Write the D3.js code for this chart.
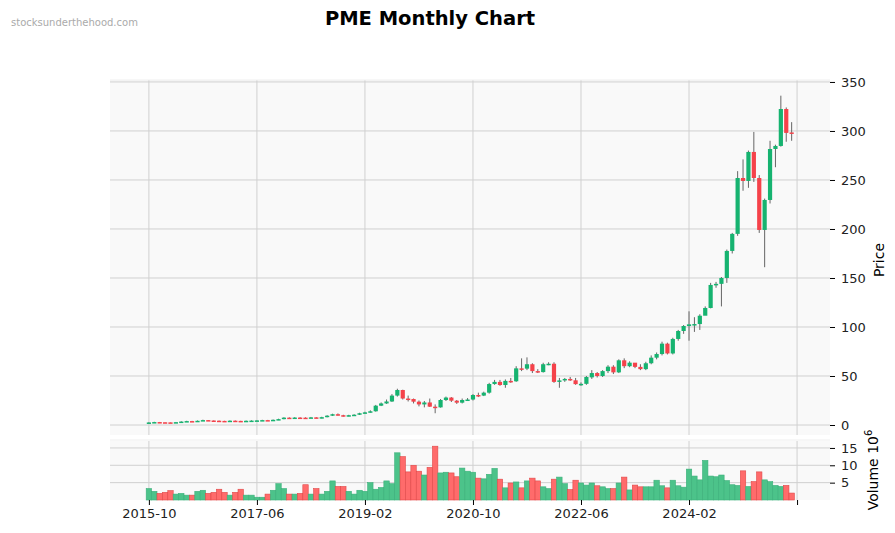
<!DOCTYPE html>
<html><head><meta charset="utf-8">
<script src="https://cdn.jsdelivr.net/npm/d3@7"></script>
<style>body{margin:0;background:#fff;font-family:"DejaVu Sans",sans-serif}</style>
</head><body><svg id="c" width="895" height="533"></svg>
<script>
const startMonth = "2015-10";
const tickIdx = [0,20,40,60,80,100,120];
const tickLabels = ["2015-10","2017-06","2019-02","2020-10","2022-06","2024-02",""];
const closes = [2.6,3.0,2.8,2.7,2.6,2.9,3.5,4.0,3.8,4.3,5.0,4.6,4.4,4.2,4.0,4.4,4.2,4.0,4.3,4.5,
4.7,5.0,4.8,5.3,6.0,7.5,7.2,7.6,7.5,7.3,7.8,7.0,8.0,9.5,11,10.0,9.0,10.0,10.5,12,
12.9,14,19.7,22,24,30,35.7,27,26.5,23.8,21,23,18.7,18,25.5,28,24.8,22.8,25.5,26,
30.6,30,33,41.8,44,40.8,45,44.6,57.8,57.5,62,55,54,62,62.5,44,45.5,47,45.6,41.7,
42,49,53,50,55,59.5,53.7,66,60,63.6,59.3,57,63,68.7,72.4,83,73,87.8,95.9,101,
102.7,103,111.5,119.4,142.9,144,150,177.6,195,252,249,278.6,252,199,229.6,281.6,284.7,322.4,298,297];
const opens = [2.3,2.6,3.0,2.8,2.7,2.6,2.9,3.5,4.0,3.8,4.3,5.0,4.6,4.4,4.2,4.0,4.4,4.2,4.0,4.3,
4.5,4.7,5.0,4.8,5.3,6.0,7.5,7.2,7.6,7.5,7.3,7.8,7.0,8.0,9.5,11,10.0,9.0,10.0,10.5,
12,12.9,14,19.7,22,24,30,35.7,27,26.5,23.8,21,23,18.7,18,25.5,28,24.8,22.8,25.5,
26,30.6,30,33,41.8,44,40.8,45,44.6,57.8,57.5,62,55,54,62,62.5,44,45.5,47,45.6,
41.7,42,48.6,53,50,55,59.5,53.7,66,60,63.6,59.3,57,63,68.7,72.4,83,73,87.8,95.9,
101,102.7,103,111.5,119.4,142.9,144,150,177.6,195,252,249,278.6,252,199,229.6,281.6,284.7,322.4,298.5];
const highs = [2.9,3.3,3.1,2.9,2.8,3.1,3.8,4.3,4.2,4.6,5.4,5.1,4.8,4.5,4.3,4.7,4.6,4.3,4.6,4.8,
5.0,5.3,5.2,5.6,6.4,7.9,7.8,8.0,7.9,7.8,8.2,7.9,8.4,10,11.5,11.8,10.4,10.4,11,12.5,
13.5,15,20.5,23,26,31.5,37,36,30,27,25,24.5,27,21,26.5,29,28.5,25.5,27,27.5,
31.5,33,34,43,46,46,46.5,48,60,68,69,63,57,63.5,64,64,48,48,49,48,
43.5,50,56,54,56,61,61,67,68,65,62.5,62,64.5,71,74,85,84,89,97,102,
116,110,113,121,145,146,151,179,196,259,271,280,299,255,231,290,286,336,324,309];
const lows = [2.2,2.4,2.6,2.5,2.4,2.4,2.7,3.3,3.6,3.6,4.1,4.4,4.2,4.0,3.8,3.9,4.0,3.8,3.8,4.1,
4.3,4.5,4.6,4.6,5.0,5.8,6.8,7.0,7.1,7.0,7.0,6.8,6.8,7.8,9.2,9.6,8.6,8.8,9.7,10.2,
11.7,12.6,13.6,19.3,21.5,23.5,29,26,24,22,19,18,18.4,12,17.7,24.5,23.5,21.5,22,24.5,
25,28.5,29.5,32,41,40,38,43,44,55,56,53,53,53.5,61,43,38,44,45,41,
40,41,47,48.5,49,53,52,53,58,59,58,56,56,62,67,71,72,72,86,93,
86,95,97,117,119,140,121,145,175,193,239,242,248,196,161,226,263,284,289,290];
const volumes = [3.3,2.5,1.9,2.2,2.7,1.7,1.9,1.4,1.4,2.5,2.8,1.9,2.2,3.1,2.2,1.4,2.2,3.1,1.4,1.4,
0.8,0.8,1.7,2.8,4.7,3.3,1.7,1.7,1.9,4.4,1.7,3.3,1.7,2.5,5.5,3.9,3.9,2.5,1.7,2.8,
2.5,5.0,3.1,3.6,5.5,4.7,13.6,12.5,8.1,10.0,8.3,7.2,9.4,15.5,7.8,8.0,7.8,6.7,9.2,8.3,
8.0,6.3,6.1,7.4,9.1,6.0,3.5,4.9,5.2,3.5,5.5,6.3,5.5,3.8,3.3,6.0,6.6,4.7,3.0,5.7,
4.9,4.3,4.9,4.1,3.8,3.3,3.3,4.9,6.6,2.9,4.3,3.8,3.8,3.8,5.7,4.1,3.5,5.7,4.1,3.7,
8.9,6.9,5.8,11.4,6.9,6.7,7.2,5.6,4.4,4.2,8.4,3.9,5.3,8.1,5.8,5.3,4.2,3.9,4.2,2.0];

const data = closes.map((c,i)=>({i,o:opens[i],h:highs[i],l:lows[i],c,v:volumes[i]}));
const svg = d3.select("#c");
const L=110,R=830, pT=80,pB=435, vT=441,vB=500;
const x = d3.scaleLinear().domain([-7.2,126.1]).range([L,R]);
const yP = d3.scaleLinear().domain([-10.2,352]).range([pB,pT]);
const yV = d3.scaleLinear().domain([0,17]).range([vB,vT]);
const G="#16b370", Rd="#f5424a", GV="#4cc38a", RV="#ff6b6b";
const up = d=>d.c>=d.o;

svg.append("text").attr("x",430).attr("y",25).attr("text-anchor","middle").attr("font-family","DejaVu Sans")
  .attr("font-size",19.5).attr("font-weight","bold").text("PME Monthly Chart");
svg.append("text").attr("x",11).attr("y",26).attr("font-size",10).attr("fill","#aaa").text("stocksunderthehood.com");

[[pT,pB,yP,[0,50,100,150,200,250,300,350]],[vT,vB,yV,[5,10,15]]].forEach(([t,b,y,ticks])=>{
  svg.append("rect").attr("x",L).attr("y",t).attr("width",R-L).attr("height",b-t).attr("fill","#f9f9f9");
  svg.append("g").selectAll("line").data(ticks).join("line").attr("x1",L).attr("x2",R)
    .attr("y1",d=>y(d)).attr("y2",d=>y(d)).attr("stroke","#d0d0d0");
  svg.append("g").selectAll("line").data(tickIdx).join("line").attr("x1",d=>x(d)).attr("x2",d=>x(d))
    .attr("y1",t).attr("y2",b).attr("stroke","#d0d0d0");
  const ax = svg.append("g").attr("transform",`translate(${R},0)`).call(d3.axisRight(y).tickValues(ticks).tickSize(5).tickPadding(6));
  ax.select(".domain").remove();
  ax.selectAll("text").attr("font-size",13).attr("font-family","DejaVu Sans").attr("fill","#222");
});
svg.append("line").attr("x1",L).attr("x2",R).attr("y1",pT).attr("y2",pT).attr("stroke","#eee");
svg.append("line").attr("x1",L).attr("x2",R).attr("y1",vT-1).attr("y2",vT-1).attr("stroke","#eee");

const bw=4.2;
svg.append("g").selectAll("line").data(data).join("line")
  .attr("x1",d=>x(d.i)).attr("x2",d=>x(d.i)).attr("y1",d=>yP(d.h)).attr("y2",d=>yP(d.l))
  .attr("stroke","#666").attr("stroke-width",1);
svg.append("g").selectAll("rect").data(data).join("rect")
  .attr("x",d=>x(d.i)-bw/2).attr("width",bw)
  .attr("y",d=>yP(Math.max(d.o,d.c))).attr("height",d=>Math.max(1.5,Math.abs(yP(d.o)-yP(d.c))))
  .attr("fill",d=>up(d)?G:Rd);
const vw=5.4;
svg.append("g").selectAll("rect").data(data).join("rect")
  .attr("x",d=>x(d.i)-vw/2).attr("width",vw).attr("y",d=>yV(d.v)).attr("height",d=>yV(0)-yV(d.v))
  .attr("fill",d=>up(d)?GV:RV).attr("stroke",d=>up(d)?"#3bb07a":"#e04848").attr("stroke-width",0.6);

const xa = svg.append("g").attr("transform",`translate(0,${vB})`)
  .call(d3.axisBottom(x).tickValues(tickIdx).tickFormat((d,k)=>tickLabels[k]).tickSize(5).tickPadding(4));
xa.select(".domain").remove();
xa.selectAll("text").attr("font-size",13).attr("font-family","DejaVu Sans").attr("fill","#222");

svg.append("text").attr("transform","translate(884,260) rotate(-90)").attr("text-anchor","middle")
  .attr("font-size",14).text("Price");
const vl = svg.append("text").attr("transform","translate(878,470) rotate(-90)").attr("text-anchor","middle").attr("font-size",14);
vl.append("tspan").text("Volume  10");
vl.append("tspan").attr("dy",-6).attr("font-size",10).text("6");
</script></body></html>
